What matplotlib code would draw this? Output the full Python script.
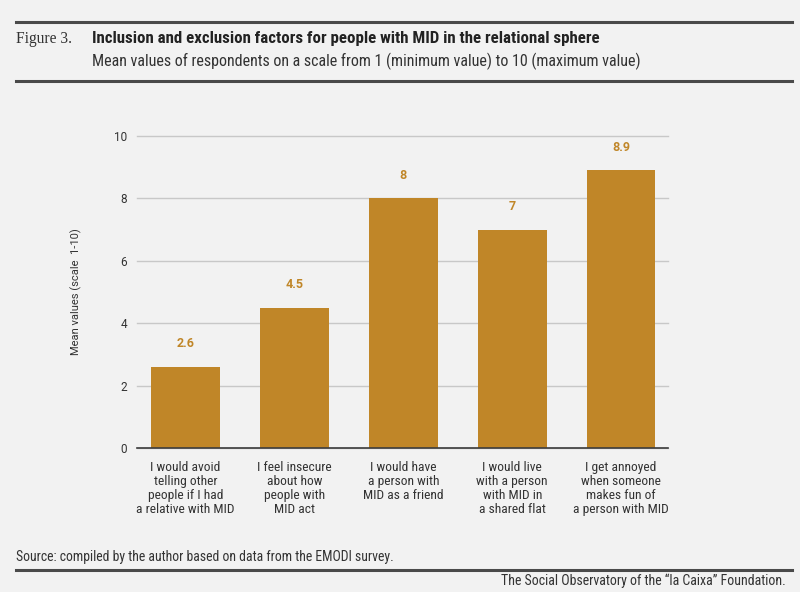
import matplotlib
matplotlib.use("Agg")
import matplotlib.pyplot as plt
from matplotlib.lines import Line2D

categories = [
    "I would avoid\ntelling other\npeople if I had\na relative with MID",
    "I feel insecure\nabout how\npeople with\nMID act",
    "I would have\na person with\nMID as a friend",
    "I would live\nwith a person\nwith MID in\na shared flat",
    "I get annoyed\nwhen someone\nmakes fun of\na person with MID",
]
values = [2.6, 4.5, 8, 7, 8.9]
value_labels = ["2.6", "4.5", "8", "7", "8.9"]
yticks = [0, 2, 4, 6, 8, 10]

BG = "#f2f2f2"
GOLD = "#c08628"
DARK = "#3c3c3c"
NARROW = ["Roboto Condensed", "DejaVu Sans"]
ROBOTO = ["Roboto", "DejaVu Sans"]

fig = plt.figure(figsize=(8, 5.92), dpi=100, facecolor=BG)
ax = fig.add_axes([137/800, 1-448/592, (668-137)/800, (448-136)/592])
ax.set_facecolor(BG)

x = list(range(len(categories)))
ax.bar(x, values, width=0.63, color=GOLD, zorder=3)
for xi, v, lab in zip(x, values, value_labels):
    ax.annotate(lab, (xi, v), xytext=(0, 12), textcoords="offset points",
                ha="center", va="bottom", fontsize=9, fontweight="bold",
                color=GOLD, family=ROBOTO)

ax.set_xlim(-0.445, 4.43)
ax.set_ylim(0, 10)
ax.set_yticks(yticks)
ax.set_yticklabels([str(t) for t in yticks], family=ROBOTO,
                   fontsize=8.5, color="#333333")
ax.tick_params(axis="y", length=0, pad=7)
ax.set_xticks(x)
ax.set_xticklabels(categories, family=NARROW, fontsize=9.7, color="#333333",
                   linespacing=1.1)
ax.tick_params(axis="x", length=0, pad=9.5)
ax.grid(axis="y", color="#c8c8c8", linewidth=1, zorder=0)
for g in ax.get_ygridlines():
    g.set_clip_on(False)
for s in ["top", "right", "left"]:
    ax.spines[s].set_visible(False)
ax.spines["bottom"].set_color(DARK)
ax.spines["bottom"].set_linewidth(1.2)
ax.spines["bottom"].set_zorder(4)
ax.set_ylabel("Mean values (scale  1-10)", family=ROBOTO,
              fontsize=8, color="#333333")
ax.yaxis.set_label_coords((82-137)/(668-137), 0.5)

# rules
for yy in [22, 81, 570]:
    fig.add_artist(Line2D([16/800, 792/800], [1-yy/592, 1-yy/592],
                          color="#4a4a4a", linewidth=2.2, transform=fig.transFigure))

fig.text(16/800, 1-39/592, "Figure 3.", family=["Liberation Serif", "DejaVu Serif"],
         fontsize=11.2, color="#333333", va="center", ha="left")
fig.text(92/800, 1-39/592, "Inclusion and exclusion factors for people with MID in the relational sphere",
         family=NARROW, fontsize=12.2, fontweight="bold", color="#222222",
         va="center", ha="left")
fig.text(92/800, 1-61/592, "Mean values of respondents on a scale from 1 (minimum value) to 10 (maximum value)",
         family=NARROW, fontsize=11.5, color="#333333", va="center", ha="left")
fig.text(16/800, 1-557/592, "Source: compiled by the author based on data from the EMODI survey.",
         family=NARROW, fontsize=9.9, color="#333333", va="center", ha="left")
fig.text(786/800, 1-581/592, "The Social Observatory of the \u201cla Caixa\u201d Foundation.",
         family=NARROW, fontsize=10, color="#333333", va="center", ha="right")

fig.savefig("out.png", dpi=100, facecolor=BG)
